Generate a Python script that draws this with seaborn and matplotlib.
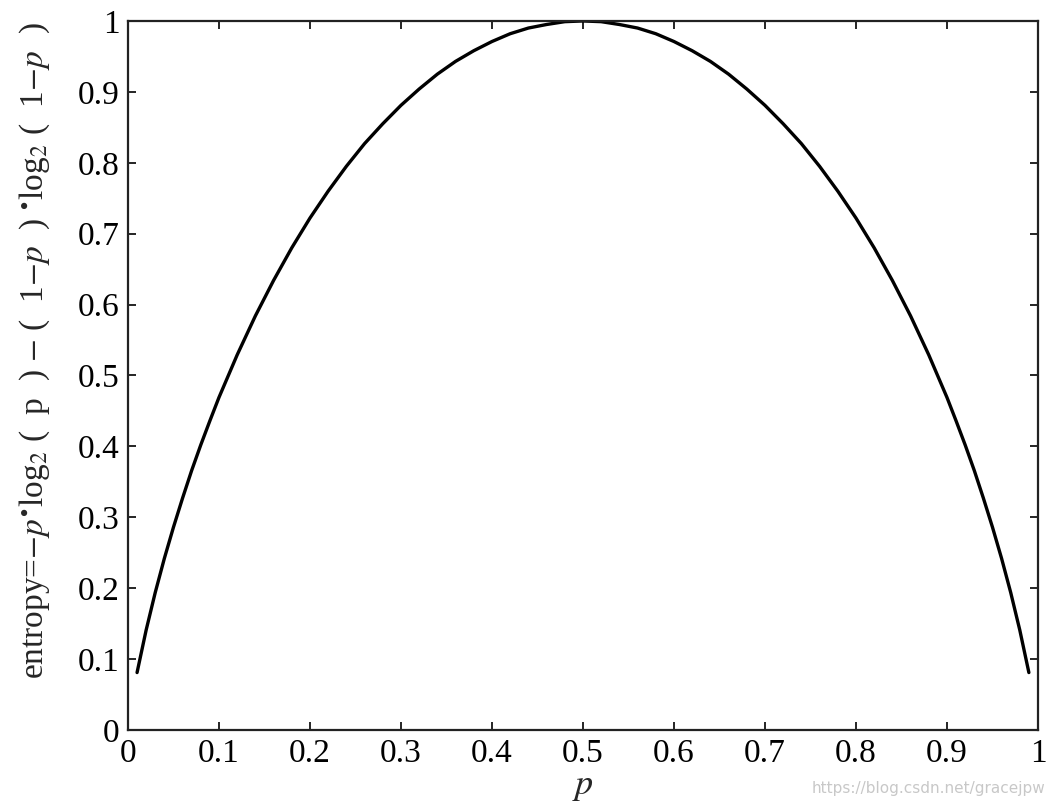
import matplotlib
matplotlib.use("Agg")
import matplotlib.pyplot as plt
import seaborn as sns
import pandas as pd

# values
p_values = [0.01, 0.02, 0.03, 0.04, 0.05, 0.06, 0.07, 0.08, 0.09, 0.10,
            0.12, 0.14, 0.16, 0.18, 0.20, 0.22, 0.24, 0.26, 0.28, 0.30,
            0.32, 0.34, 0.36, 0.38, 0.40, 0.42, 0.44, 0.46, 0.48, 0.50,
            0.52, 0.54, 0.56, 0.58, 0.60, 0.62, 0.64, 0.66, 0.68, 0.70,
            0.72, 0.74, 0.76, 0.78, 0.80, 0.82, 0.84, 0.86, 0.88, 0.90,
            0.91, 0.92, 0.93, 0.94, 0.95, 0.96, 0.97, 0.98, 0.99]
entropy = [0.081, 0.141, 0.194, 0.242, 0.286, 0.327, 0.366, 0.402, 0.436, 0.469,
           0.529, 0.584, 0.634, 0.680, 0.722, 0.760, 0.795, 0.827, 0.855, 0.881,
           0.904, 0.925, 0.943, 0.958, 0.971, 0.982, 0.990, 0.995, 0.999, 1.000,
           0.999, 0.995, 0.990, 0.982, 0.971, 0.958, 0.943, 0.925, 0.904, 0.881,
           0.855, 0.827, 0.795, 0.760, 0.722, 0.680, 0.634, 0.584, 0.529, 0.469,
           0.436, 0.402, 0.366, 0.327, 0.286, 0.242, 0.194, 0.141, 0.081]
x_ticks = [0, 0.1, 0.2, 0.3, 0.4, 0.5, 0.6, 0.7, 0.8, 0.9, 1]
y_ticks = [0, 0.1, 0.2, 0.3, 0.4, 0.5, 0.6, 0.7, 0.8, 0.9, 1]
tick_labels = ["0", "0.1", "0.2", "0.3", "0.4", "0.5", "0.6", "0.7", "0.8", "0.9", "1"]

sns.set_style("ticks")
plt.rcParams["font.family"] = ["Liberation Serif", "DejaVu Serif"]
plt.rcParams["mathtext.fontset"] = "stix"

df = pd.DataFrame({"p": p_values, "entropy": entropy})

fig = plt.figure(figsize=(10.54, 8.06), dpi=100)
ax = fig.add_axes([0.1214, 0.0943, 0.8634, 0.8797])
sns.lineplot(data=df, x="p", y="entropy", ax=ax, color="black", linewidth=2.4)

ax.set_xlim(0, 1)
ax.set_ylim(0, 1)
ax.set_xticks(x_ticks)
ax.set_xticklabels(tick_labels)
ax.set_yticks(y_ticks)
ax.set_yticklabels(tick_labels)
ax.tick_params(direction="in", length=6, width=1.2, top=True, right=True,
               labelsize=24, pad=6, colors="black")
for s in ax.spines.values():
    s.set_visible(True)
    s.set_linewidth(1.6)
    s.set_color("#222222")

ax.set_xlabel(r"$p$", fontsize=26, labelpad=1)
ax.set_ylabel(r"entropy=$-p^{\bullet}$log$_2$ (  p  ) $-$ (  1$-p$  ) $^{\bullet}$log$_2$ (  1$-p$  )",
              fontsize=24)
ax.yaxis.set_label_coords(-0.084, 0.535)

fig.text(0.992, 0.012, "https://blog.csdn.net/gracejpw", ha="right", va="bottom",
         fontsize=11, color="#c8c8c8", family="DejaVu Sans")

fig.savefig("out.png", dpi=100)
